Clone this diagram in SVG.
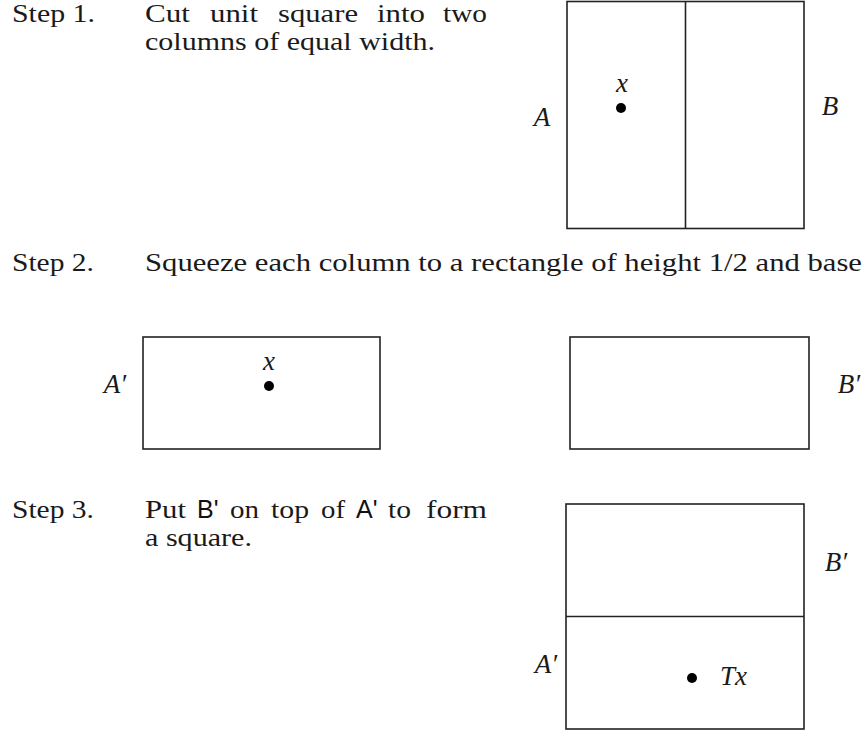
<svg xmlns="http://www.w3.org/2000/svg" width="865" height="731" viewBox="0 0 865 731">
<style>
  .t { font-family: "Liberation Serif", "Times New Roman", serif; font-size: 25px; fill: #1a1a1a; }
  .m { font-family: "Liberation Serif", "Times New Roman", serif; font-style: italic; font-size: 27px; fill: #1a1a1a; }
  .s { font-family: "Liberation Sans", Arial, sans-serif; font-size: 25px; fill: #111; }
  .box { fill: none; stroke: #222; stroke-width: 1.6; }
  .dot { fill: #000; }
</style>
<rect width="865" height="731" fill="#fff"/>

<g id="step1-text">
  <text class="t" x="12" y="22" textLength="83" lengthAdjust="spacingAndGlyphs">Step 1.</text>
  <text class="t" x="145" y="22" textLength="45" lengthAdjust="spacingAndGlyphs">Cut</text>
  <text class="t" x="210" y="22" textLength="48" lengthAdjust="spacingAndGlyphs">unit</text>
  <text class="t" x="278" y="22" textLength="80" lengthAdjust="spacingAndGlyphs">square</text>
  <text class="t" x="377" y="22" textLength="48" lengthAdjust="spacingAndGlyphs">into</text>
  <text class="t" x="443" y="22" textLength="44" lengthAdjust="spacingAndGlyphs">two</text>
  <text class="t" x="145" y="50" textLength="290" lengthAdjust="spacingAndGlyphs">columns of equal width.</text>
</g>

<g id="unit-square">
  <rect class="box" x="567" y="1.5" width="237" height="227"/>
  <line class="box" x1="685.5" y1="1.5" x2="685.5" y2="228.5"/>
  <circle class="dot" cx="621" cy="108" r="5"/>
  <text class="m" x="622" y="92" text-anchor="middle">x</text>
  <text class="m" x="542" y="126" text-anchor="middle">A</text>
  <text class="m" x="830" y="115" text-anchor="middle">B</text>
</g>

<g id="step2-text">
  <text class="t" x="12" y="271" textLength="82" lengthAdjust="spacingAndGlyphs">Step 2.</text>
  <text class="t" x="145" y="271" textLength="717" lengthAdjust="spacingAndGlyphs">Squeeze each column to a rectangle of height 1/2 and base</text>
</g>

<g id="rect-a-prime">
  <rect class="box" x="143" y="337" width="237" height="112"/>
  <circle class="dot" cx="269" cy="386" r="5"/>
  <text class="m" x="269" y="370" text-anchor="middle">x</text>
  <text class="m" x="115" y="393" text-anchor="middle">A′</text>
</g>

<g id="rect-b-prime">
  <rect class="box" x="570" y="337" width="239" height="112"/>
  <text class="m" x="849" y="393" text-anchor="middle">B′</text>
</g>

<g id="step3-text">
  <text class="t" x="12" y="518" textLength="82" lengthAdjust="spacingAndGlyphs">Step 3.</text>
  <text class="t" x="145" y="518" textLength="41" lengthAdjust="spacingAndGlyphs">Put</text>
  <text class="s" x="197" y="518">B'</text>
  <text class="t" x="230" y="518" textLength="29" lengthAdjust="spacingAndGlyphs">on</text>
  <text class="t" x="271" y="518" textLength="38" lengthAdjust="spacingAndGlyphs">top</text>
  <text class="t" x="321" y="518" textLength="24" lengthAdjust="spacingAndGlyphs">of</text>
  <text class="s" x="356" y="518">A'</text>
  <text class="t" x="388" y="518" textLength="23" lengthAdjust="spacingAndGlyphs">to</text>
  <text class="t" x="426" y="518" textLength="61" lengthAdjust="spacingAndGlyphs">form</text>
  <text class="t" x="145" y="546" textLength="107" lengthAdjust="spacingAndGlyphs">a square.</text>
</g>

<g id="combined-square">
  <rect class="box" x="566" y="504" width="238" height="225"/>
  <line class="box" x1="566" y1="616.5" x2="804" y2="616.5"/>
  <circle class="dot" cx="692" cy="678" r="5"/>
  <text class="m" x="720" y="685">Tx</text>
  <text class="m" x="546" y="673" text-anchor="middle">A′</text>
  <text class="m" x="836" y="571" text-anchor="middle">B′</text>
</g>
</svg>
